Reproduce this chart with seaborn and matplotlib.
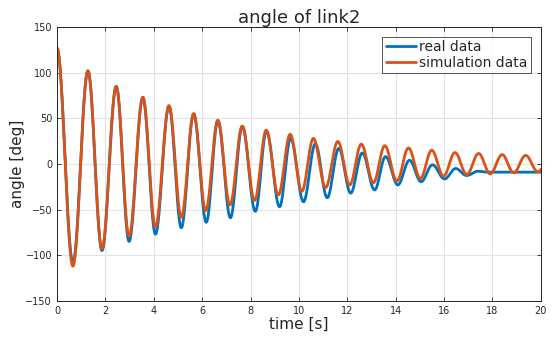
import numpy as np
import pandas as pd
import matplotlib
matplotlib.use("Agg")
import matplotlib.pyplot as plt
import seaborn as sns

# extrema (peaks / troughs)
real_t = [0.0, 0.66, 1.28, 1.86, 2.45, 2.98, 3.55, 4.07, 4.63, 5.14, 5.65, 6.17,
          6.65, 7.17, 7.66, 8.2, 8.66, 9.2, 9.66, 10.19, 10.68, 11.17, 11.65,
          12.14, 12.62, 13.13, 13.58, 14.09, 14.57, 15.05, 15.52, 16.02, 16.48,
          16.93, 17.4, 17.8, 20.4]
real_v = [127, -108, 102, -95, 85, -85, 73, -77, 63, -70, 55, -64, 47, -59, 41,
          -52, 36, -47, 28, -41.5, 22, -37, 17, -32, 12, -28.5, 8, -23, 4, -19.5,
          -1, -16.5, -5, -12.7, -8, -9, -9]

sim_t = [0.0, 0.66, 1.28, 1.86, 2.45, 2.98, 3.55, 4.07, 4.63, 5.14, 5.65, 6.15,
         6.65, 7.15, 7.66, 8.17, 8.65, 9.15, 9.64, 10.12, 10.6, 11.1, 11.61,
         12.1, 12.58, 13.08, 13.55, 14.05, 14.53, 15.02, 15.49, 15.98, 16.45,
         16.94, 17.43, 17.91, 18.4, 18.88, 19.37, 19.88, 20.36]
sim_v = [127, -112, 102, -93, 85, -79, 73, -69, 64, -58.5, 55, -51, 48, -45,
         41.5, -40, 37, -34, 32.5, -30, 28, -26, 24.6, -23, 21.7, -20.6, 20,
         -18.8, 17.5, -16, 15, -13.4, 12.5, -11.6, 11.5, -10.9, 10.2, -9.8, 9.4,
         -8.7, 9]

series_names = ["real data", "simulation data"]
colors = ["#0072BD", "#D95319"]


def smooth(ts, vs, n=30):
    # half-cosine shape between consecutive extrema
    tt, vv = [], []
    for i in range(len(ts) - 1):
        s = np.linspace(0, 1, n, endpoint=False)
        tt.append(ts[i] + (ts[i + 1] - ts[i]) * s)
        vv.append(vs[i] + (vs[i + 1] - vs[i]) * (1 - np.cos(np.pi * s)) / 2)
    tt.append([ts[-1]])
    vv.append([vs[-1]])
    return np.concatenate(tt), np.concatenate(vv)


frames = []
for name, ts, vs in zip(series_names, [real_t, sim_t], [real_v, sim_v]):
    t, v = smooth(ts, vs)
    frames.append(pd.DataFrame({"time": t, "angle": v, "series": name}))
df = pd.concat(frames, ignore_index=True)

sns.set_theme(style="white")
plt.rcParams["font.family"] = ["DejaVu Sans"]

fig = plt.figure(figsize=(5.53, 3.38), dpi=100)
ax = fig.add_axes([0.103, 0.11, 0.875, 0.81])

sns.lineplot(data=df, x="time", y="angle", hue="series", palette=colors,
             estimator=None, sort=False, linewidth=2.0, ax=ax)

ax.set_xlim(0, 20)
ax.set_ylim(-150, 150)
ax.set_xticks(np.arange(0, 21, 2))
ax.set_yticks(np.arange(-150, 151, 50))
ax.grid(True, color="#e3e3e3", linewidth=0.8)
ax.tick_params(direction="in", length=3, width=0.6, labelsize=7,
               top=True, right=True, bottom=True, left=True, colors="#262626")
for sp in ax.spines.values():
    sp.set_color("#262626")
    sp.set_linewidth(0.7)

ax.set_title("angle of link2", fontsize=13, pad=3)
ax.set_xlabel("time [s]", fontsize=11, labelpad=1)
ax.set_ylabel("angle [deg]", fontsize=11, labelpad=0)

leg = ax.legend(loc="upper right", fontsize=10, frameon=True, fancybox=False,
                handlelength=2.2, handletextpad=0.2, borderpad=0.25,
                labelspacing=0.1, borderaxespad=0.7)
leg.get_frame().set_edgecolor("#262626")
leg.get_frame().set_linewidth(0.7)
for line in leg.get_lines():
    line.set_linewidth(2.0)

fig.savefig("out.png", dpi=100)
